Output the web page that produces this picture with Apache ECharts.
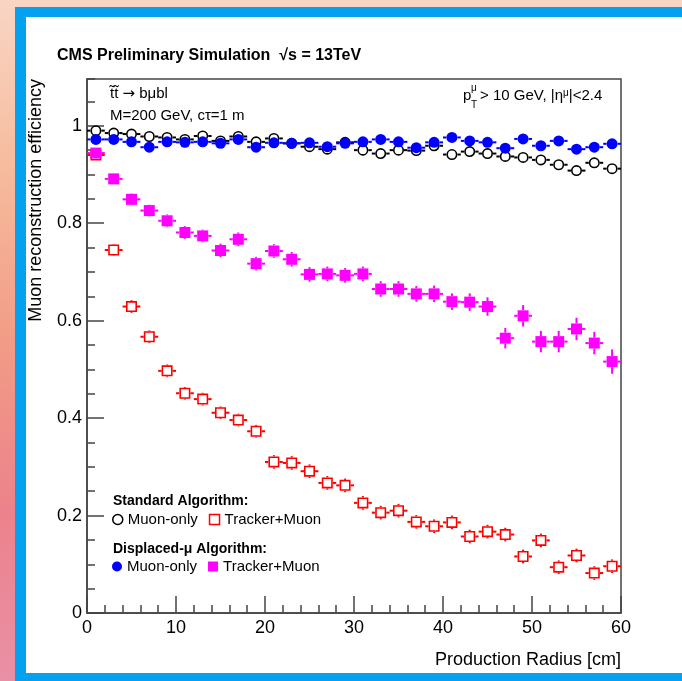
<!DOCTYPE html>
<html><head><meta charset="utf-8">
<script src="https://cdn.jsdelivr.net/npm/echarts@6/dist/echarts.min.js"></script>
<style>
html,body{margin:0;padding:0;width:682px;height:681px;overflow:hidden;}
body{position:relative;background:linear-gradient(to bottom,#f9d5c4 0%,#f6bb9c 25%,#f29c86 50%,#ec828b 75%,#e990a6 100%);}
#frame{position:absolute;left:15px;top:7px;width:667px;height:674px;background:#03a1f0;}
#panel{position:absolute;left:26px;top:17px;width:656px;height:656px;background:#fff;}
#chart{position:absolute;left:0;top:0;width:682px;height:681px;}
</style></head>
<body>
<div id="frame"></div><div id="panel"></div><div id="chart"></div>
<script>
// ---- data ----
const radiusCm = [1,3,5,7,9,11,13,15,17,19,21,23,25,27,29,31,33,35,37,39,41,43,45,47,49,51,53,55,57,59];
const binHalfWidth = 1;
const stdMuonOnly = [0.990,0.985,0.983,0.978,0.976,0.972,0.979,0.969,0.978,0.967,0.974,0.964,0.957,0.952,0.966,0.950,0.943,0.950,0.949,0.959,0.941,0.947,0.943,0.937,0.935,0.930,0.920,0.908,0.924,0.912];
const stdMuonOnlyErr = [0.004,0.004,0.004,0.004,0.004,0.004,0.004,0.004,0.004,0.005,0.005,0.005,0.005,0.005,0.005,0.005,0.005,0.005,0.005,0.006,0.006,0.006,0.006,0.006,0.006,0.007,0.007,0.007,0.007,0.007];
const stdTrackerMuon = [0.940,0.745,0.629,0.567,0.497,0.451,0.439,0.411,0.396,0.373,0.310,0.308,0.291,0.267,0.262,0.226,0.206,0.210,0.187,0.178,0.186,0.157,0.167,0.161,0.116,0.149,0.094,0.118,0.082,0.096];
const stdTrackerMuonErr = [0.008,0.012,0.013,0.013,0.013,0.013,0.013,0.013,0.013,0.013,0.014,0.014,0.014,0.014,0.014,0.014,0.014,0.014,0.014,0.014,0.014,0.014,0.014,0.014,0.014,0.014,0.014,0.014,0.014,0.014];
const dispMuonOnly = [0.972,0.972,0.967,0.956,0.967,0.966,0.967,0.964,0.972,0.956,0.965,0.964,0.965,0.957,0.964,0.967,0.972,0.967,0.955,0.966,0.976,0.969,0.966,0.954,0.973,0.959,0.969,0.952,0.956,0.963];
const dispMuonOnlyErr = [0.004,0.004,0.004,0.004,0.004,0.004,0.004,0.004,0.004,0.005,0.005,0.005,0.005,0.005,0.005,0.005,0.005,0.005,0.005,0.006,0.006,0.006,0.006,0.006,0.006,0.007,0.007,0.007,0.007,0.007];
const dispTrackerMuon = [0.944,0.891,0.849,0.826,0.805,0.781,0.774,0.744,0.767,0.717,0.743,0.726,0.695,0.696,0.693,0.696,0.665,0.665,0.655,0.655,0.639,0.638,0.629,0.564,0.610,0.557,0.557,0.583,0.554,0.516];
const dispTrackerMuonErr = [0.011,0.011,0.012,0.012,0.013,0.013,0.013,0.014,0.014,0.014,0.014,0.015,0.015,0.015,0.015,0.015,0.016,0.016,0.016,0.017,0.017,0.018,0.019,0.021,0.022,0.022,0.022,0.023,0.023,0.025];
const xTickLabels = ['0','10','20','30','40','50','60'];
const yTickLabels = ['0','0.2','0.4','0.6','0.8','1'];

const FONT = '"Liberation Sans", Arial, Helvetica, sans-serif';

function build(vals, errs) { return radiusCm.map((x, i) => [x, vals[i], errs[i]]); }

function makeRender(shape, color, size, filled) {
  return function (params, api) {
    const x = api.value(0), y = api.value(1), e = api.value(2);
    const c = api.coord([x, y]);
    const l = api.coord([x - binHalfWidth, y]);
    const r = api.coord([x + binHalfWidth, y]);
    const t = api.coord([x, y + e]);
    const b = api.coord([x, y - e]);
    const h = size / 2;
    const ls = { stroke: color, lineWidth: 2 };
    const ch = [];
    if (c[0] - l[0] > h) {
      ch.push({ type: 'line', shape: { x1: l[0], y1: c[1], x2: c[0] - h, y2: c[1] }, style: ls });
      ch.push({ type: 'line', shape: { x1: c[0] + h, y1: c[1], x2: r[0], y2: c[1] }, style: ls });
    }
    if (c[1] - t[1] > h) {
      ch.push({ type: 'line', shape: { x1: c[0], y1: t[1], x2: c[0], y2: c[1] - h }, style: ls });
      ch.push({ type: 'line', shape: { x1: c[0], y1: c[1] + h, x2: c[0], y2: b[1] }, style: ls });
    }
    const st = filled ? { fill: color } : { fill: 'none', stroke: color, lineWidth: 1.6 };
    const inset = filled ? 0 : 0.8;
    if (shape === 'circle') {
      ch.push({ type: 'circle', shape: { cx: c[0], cy: c[1], r: h - inset }, style: st });
    } else {
      ch.push({ type: 'rect', shape: { x: c[0] - h + inset, y: c[1] - h + inset, width: size - 2 * inset, height: size - 2 * inset }, style: st });
    }
    return { type: 'group', children: ch };
  };
}

const chart = echarts.init(document.getElementById('chart'), null, { renderer: 'canvas' });
const axisCol = '#444';
const option = {
  backgroundColor: 'transparent',
  animation: false,
  grid: { left: 87, top: 79, width: 534, height: 534, show: true, borderColor: axisCol, borderWidth: 1.5, backgroundColor: 'transparent' },
  xAxis: [{
    type: 'value', min: 0, max: 60, interval: 10,
    axisLine: { show: true, onZero: false, lineStyle: { color: axisCol, width: 1.5 } },
    axisTick: { show: true, inside: true, length: 17, lineStyle: { color: axisCol, width: 1.5 } },
    minorTick: { show: true, splitNumber: 5, length: 8, lineStyle: { color: axisCol, width: 1.5 } },
    splitLine: { show: false }, minorSplitLine: { show: false },
    axisLabel: { margin: 6, fontSize: 18, fontFamily: FONT, color: '#000', formatter: v => xTickLabels[Math.round(v / 10)] }
  }],
  yAxis: [{
    type: 'value', min: 0, max: 1.096, interval: 0.2,
    axisLine: { show: true, onZero: false, lineStyle: { color: axisCol, width: 1.5 } },
    axisTick: { show: true, inside: true, length: 17, lineStyle: { color: axisCol, width: 1.5 } },
    splitLine: { show: false },
    axisLabel: { margin: 5, fontSize: 18, fontFamily: FONT, color: '#000', showMaxLabel: false,
      formatter: v => { const k = Math.round(v / 0.2); return Math.abs(v - k * 0.2) < 1e-6 ? yTickLabels[k] : ''; } }
  }, {
    type: 'value', min: 0, max: 1.096, interval: 0.05, position: 'left', offset: 0,
    axisLine: { show: false },
    axisTick: { show: true, inside: true, length: 8, lineStyle: { color: axisCol, width: 1.5 } },
    splitLine: { show: false }, axisLabel: { show: false }
  }],
  legend: [{
    left: 112, top: 512, padding: 0, itemWidth: 10, itemHeight: 10, itemGap: 11, selectedMode: false, orient: 'horizontal',
    textStyle: { fontSize: 15, fontFamily: FONT, color: '#000' },
    formatter: n => n.split(': ')[1],
    data: [
      { name: 'Standard: Muon-only', icon: 'circle', itemStyle: { color: 'rgba(0,0,0,0)', borderColor: '#000', borderWidth: 1.5 } },
      { name: 'Standard: Tracker+Muon', icon: 'rect', itemStyle: { color: 'rgba(0,0,0,0)', borderColor: '#ff0000', borderWidth: 1.5 } }
    ]
  }, {
    left: 112, top: 559, padding: 0, itemWidth: 10, itemHeight: 10, itemGap: 11, selectedMode: false, orient: 'horizontal',
    textStyle: { fontSize: 15, fontFamily: FONT, color: '#000' },
    formatter: n => n.split(': ')[1],
    data: [
      { name: 'Displaced: Muon-only', icon: 'circle', itemStyle: { color: '#0000ff', borderWidth: 0 } },
      { name: 'Displaced: Tracker+Muon', icon: 'rect', itemStyle: { color: '#ff00ff', borderWidth: 0 } }
    ]
  }],
  series: [
    { type: 'custom', name: 'Standard: Muon-only', xAxisIndex: 0, yAxisIndex: 0, color: '#000', data: build(stdMuonOnly, stdMuonOnlyErr), encode: { x: 0, y: 1 }, renderItem: makeRender('circle', '#000000', 11, false), z: 2 },
    { type: 'custom', name: 'Standard: Tracker+Muon', xAxisIndex: 0, yAxisIndex: 0, color: '#ff0000', data: build(stdTrackerMuon, stdTrackerMuonErr), encode: { x: 0, y: 1 }, renderItem: makeRender('rect', '#ff0000', 11, false), z: 3 },
    { type: 'custom', name: 'Displaced: Muon-only', xAxisIndex: 0, yAxisIndex: 0, color: '#0000ff', data: build(dispMuonOnly, dispMuonOnlyErr), encode: { x: 0, y: 1 }, renderItem: makeRender('circle', '#0000ff', 11, true), z: 4 },
    { type: 'custom', name: 'Displaced: Tracker+Muon', xAxisIndex: 0, yAxisIndex: 0, color: '#ff00ff', data: build(dispTrackerMuon, dispTrackerMuonErr), encode: { x: 0, y: 1 }, renderItem: makeRender('rect', '#ff00ff', 11, true), z: 5 }
  ],
  graphic: [
    { type: 'text', x: 57, y: 56, style: { text: 'CMS Preliminary Simulation  \u221As = 13TeV', font: 'bold 16px ' + FONT, fill: '#000', align: 'left', verticalAlign: 'middle' } },
    { type: 'text', x: 36, y: 79, rotation: Math.PI / 2, style: { text: 'Muon reconstruction efficiency', font: '18px ' + FONT, fill: '#000', align: 'right', verticalAlign: 'middle' } },
    { type: 'text', x: 621, y: 660, style: { text: 'Production Radius [cm]', font: '18px ' + FONT, fill: '#000', align: 'right', verticalAlign: 'middle' } },
    { type: 'text', x: 110, y: 94, style: { text: 't\u0303t\u0303 {a|\u2192} b\u03bcbl', font: '15px ' + FONT, fill: '#000', align: 'left', verticalAlign: 'middle',
        rich: { a: { fontSize: 15, fontFamily: '"DejaVu Sans", sans-serif' } } } },
    { type: 'text', x: 110, y: 116, style: { text: 'M=200 GeV, c\u03c4=1 m', font: '15px ' + FONT, fill: '#000', align: 'left', verticalAlign: 'middle' } },
    { type: 'text', x: 463, y: 96, style: { text: 'p', font: '15px ' + FONT, fill: '#000', align: 'left', verticalAlign: 'middle' } },
    { type: 'text', x: 471, y: 88, style: { text: '\u03bc', font: '10px ' + FONT, fill: '#000', align: 'left', verticalAlign: 'middle' } },
    { type: 'text', x: 471, y: 105, style: { text: 'T', font: '10px ' + FONT, fill: '#000', align: 'left', verticalAlign: 'middle' } },
    { type: 'text', x: 480, y: 96, style: { text: '> 10 GeV, |\u03b7{s|\u03bc}|<2.4', font: '15px ' + FONT, fill: '#000', align: 'left', verticalAlign: 'middle',
        rich: { s: { fontSize: 10, fontFamily: FONT, verticalAlign: 'top', padding: [0, 0, 6, 0] } } } },
    { type: 'text', x: 113, y: 501, style: { text: 'Standard Algorithm:', font: 'bold 14px ' + FONT, fill: '#000', align: 'left', verticalAlign: 'middle' } },
    { type: 'text', x: 113, y: 549, style: { text: 'Displaced-\u03bc Algorithm:', font: 'bold 14px ' + FONT, fill: '#000', align: 'left', verticalAlign: 'middle' } }
  ]
};
chart.setOption(option);
</script>
</body></html>
